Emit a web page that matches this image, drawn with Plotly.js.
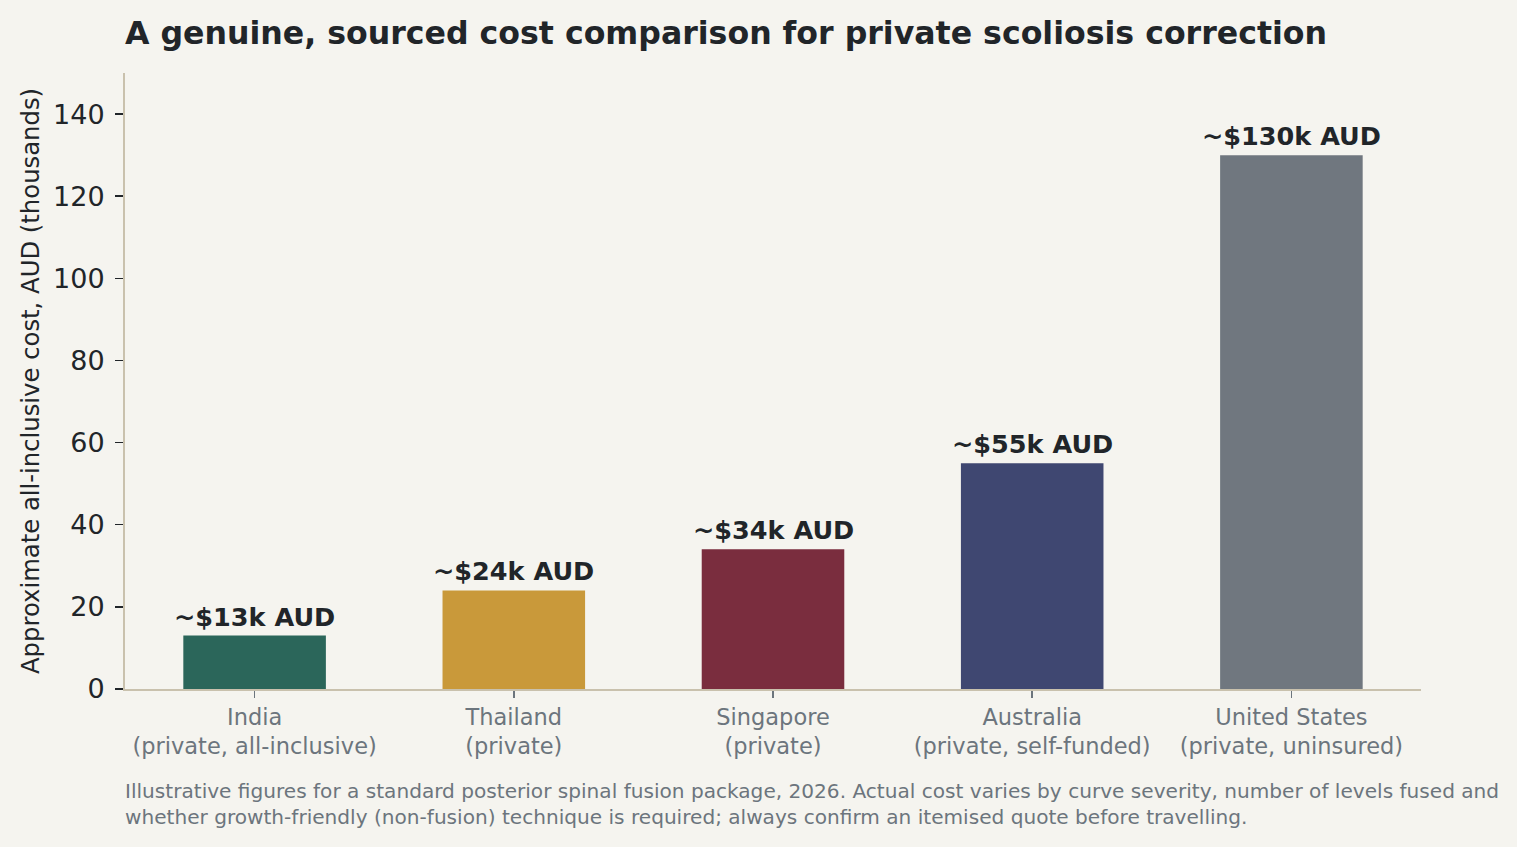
<!DOCTYPE html>
<html>
<head>
<meta charset="utf-8">
<script src="https://cdn.plot.ly/plotly-3.0.1.min.js"></script>
<style>
  html, body { margin: 0; padding: 0; background: #f5f4ef; }
  #chart { width: 1517px; height: 847px; }
</style>
</head>
<body>
<div id="chart"></div>
<script>
// data
const countries = ['India', 'Thailand', 'Singapore', 'Australia', 'United States'];
const subLabels = ['(private, all-inclusive)', '(private)', '(private)', '(private, self-funded)', '(private, uninsured)'];
const costK = [13, 24, 34, 55, 130];
const barLabels = ['~$13k AUD', '~$24k AUD', '~$34k AUD', '~$55k AUD', '~$130k AUD'];
const barColors = ['#2b665a', '#c9993a', '#7a2d3e', '#3f4771', '#70777f'];
const yTicks = [0, 20, 40, 60, 80, 100, 120, 140];

const font = 'DejaVu Sans, sans-serif';
const dark = '#212529';
const grey = '#6c757d';
const spine = '#c9c1ad';

const tickText = countries.map((c, i) => c + '<br>' + subLabels[i]);

var trace = {
	type: 'bar',
	x: countries,
	y: costK,
	width: 0.55,
	marker: { color: barColors, line: { width: 0 } },
	hoverinfo: 'skip'
};

var annotations = countries.map((c, i) => ({
	x: c,
	y: costK[i],
	xref: 'x',
	yref: 'y',
	text: barLabels[i],
	showarrow: false,
	yanchor: 'bottom',
	yshift: 2,
	font: { family: font, size: 25.5, color: dark, weight: 'bold' }
}));

// footnote under the axis
annotations.push({
	xref: 'paper',
	yref: 'paper',
	x: -1 / 1296,
	y: -0.145,
	xanchor: 'left',
	yanchor: 'top',
	align: 'left',
	showarrow: false,
	borderpad: 0,
	text: 'Illustrative figures for a standard posterior spinal fusion package, 2026. Actual cost varies by curve severity, number of levels fused and<br>whether growth-friendly (non-fusion) technique is required; always confirm an itemised quote before travelling.',
	font: { family: font, size: 20.1, color: grey }
});

var layout = {
	width: 1517,
	height: 847,
	paper_bgcolor: '#f5f4ef',
	plot_bgcolor: '#f5f4ef',
	margin: { l: 125, r: 96, t: 73, b: 158 },
	showlegend: false,
	title: {
		text: '<b>A genuine, sourced cost comparison for private scoliosis correction</b>',
		x: 125 / 1517,
		xref: 'container',
		xanchor: 'left',
		y: 1 - 33 / 847,
		yref: 'container',
		yanchor: 'middle',
		font: { family: font, size: 31.6, color: dark }
	},
	xaxis: {
		type: 'category',
		range: [-0.5, 4.5],
		tickvals: countries,
		ticktext: tickText,
		ticks: 'outside',
		ticklen: 7,
		tickwidth: 1.5,
		tickcolor: grey,
		tickfont: { family: font, size: 22.5, color: grey },
		showline: true,
		linecolor: spine,
		linewidth: 2,
		showgrid: false,
		zeroline: false,
		fixedrange: true
	},
	yaxis: {
		range: [0, 150],
		tickvals: yTicks,
		ticks: 'outside',
		ticklen: 8,
		tickwidth: 1.5,
		tickcolor: dark,
		ticklabelstandoff: 5,
		tickfont: { family: font, size: 27, color: dark },
		showline: true,
		linecolor: spine,
		linewidth: 2,
		showgrid: false,
		zeroline: false,
		fixedrange: true,
		title: {
			text: 'Approximate all-inclusive cost, AUD (thousands)',
			standoff: 7,
			font: { family: font, size: 24.3, color: dark }
		}
	},
	annotations: annotations
};

Plotly.newPlot('chart', [trace], layout, { displayModeBar: false, staticPlot: true });
</script>
</body>
</html>
